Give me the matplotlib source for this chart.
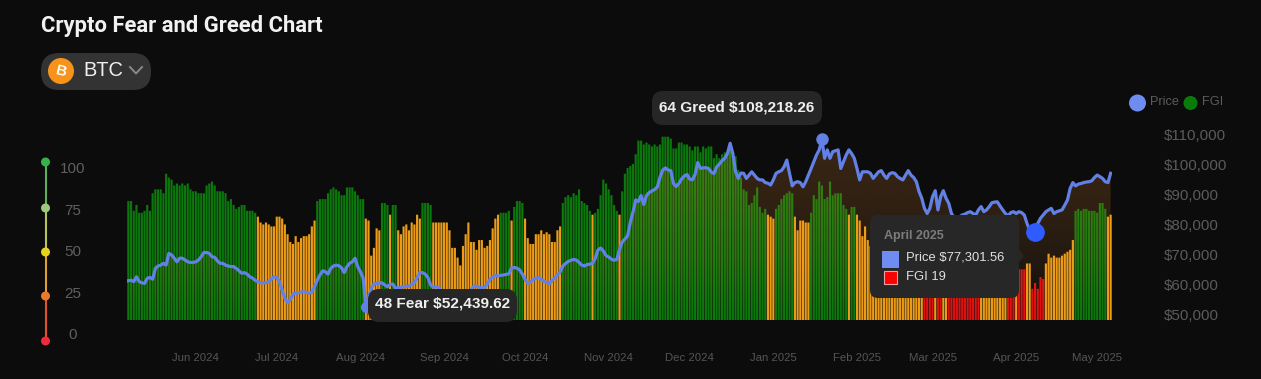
import numpy as np
import pandas as pd
import matplotlib
matplotlib.use("Agg")
import matplotlib.pyplot as plt
import matplotlib.dates as mdates
from matplotlib.patches import FancyBboxPatch, Circle, Rectangle, Polygon
from matplotlib.colors import LinearSegmentedColormap

plt.rcParams['font.family'] = ['Liberation Sans', 'DejaVu Sans']

# daily values
start_date = "2024-05-07"

fgi = [
    61, 61, 56, 59, 55, 55, 56, 59, 56, 65, 67, 67, 67, 65, 75, 73, 72, 69, 70, 69, 70, 69, 70, 67,
    66, 66, 65, 65, 65, 69, 70, 71, 69, 66, 66, 66, 65, 61, 62, 59, 57, 58, 59, 59, 56, 56, 56, 55,
    53, 50, 49, 50, 49, 48, 48, 53, 53, 52, 49, 44, 40, 39, 43, 40, 42, 43, 43, 44, 48, 51,
    61, 62, 62, 62, 65, 67, 68, 67, 66, 64, 64, 68, 68, 68, 66, 64, 62, 62,
    52, 51, 33, 37, 47, 46, 60, 60, 59, 54, 59, 59,
    46, 44, 48, 49, 46, 50, 49, 54, 52, 60, 60, 60, 59,
    50, 50, 50, 50, 50, 50, 46, 37, 37, 32, 28, 38, 44, 50, 40, 40, 36, 41, 41, 37, 38, 41, 47, 52, 54,
    55, 55, 55, 56, 51, 58, 61, 61, 60, 52,
    42, 39, 39, 44, 44, 46, 44, 45, 44, 40, 40, 46, 48,
    60, 63, 64, 63, 65, 64, 67, 61, 60, 59, 56, 54,
    55, 57, 64, 72, 70, 67, 64, 59, 56, 54,
    66, 75, 78, 79, 80, 85, 92, 92, 90, 91, 90, 89, 90, 89, 90, 94, 94, 94, 93, 88, 88, 91, 91, 90, 90, 89,
    87, 89, 89, 86, 89, 88, 89, 89, 83, 85, 83, 85, 86, 85, 91, 86, 84, 77, 73, 67, 66, 59, 60, 64, 68, 58, 55, 57,
    54, 53, 52, 57, 59, 62, 64, 65, 66, 65, 53, 46, 51, 51, 50, 50,
    55, 64, 62, 71, 69, 62, 63, 71, 64, 65, 65, 65, 59, 57, 54, 58, 58, 54, 51, 43, 48, 41, 38,
    44, 46, 48, 45, 43, 48, 47, 46, 44, 47, 50, 49, 46, 44, 43, 45, 47, 42, 35,
    25, 21, 17, 21, 33, 25, 24, 35, 34,
    23, 20, 15, 20, 24, 20, 25, 26, 25, 20, 22, 27,
    32, 34, 30, 33, 36, 31, 30, 33, 34, 30, 27, 25, 24, 29, 26, 26, 26, 29, 29,
    16, 19, 16, 22, 21, 29, 34, 32, 33, 32, 32, 33, 34, 35, 36, 41,
    56, 57, 56, 57, 57, 56, 56, 56, 55, 60, 60, 57, 53, 54,
]

price = [
    61100, 61300, 60800, 62400, 60800, 60400, 60200, 61900, 62200, 61600, 65200, 66000, 66300, 66900, 66300, 70200,
    69700, 68600, 67400, 68600, 68600, 68000, 67400, 67200, 67200, 67400, 68000, 69100, 70500, 70500, 70200, 69100,
    68900, 67700, 66900, 66900, 66300, 66000, 65800, 65800, 65200, 64400, 63600, 63800, 63300, 62400, 62000, 61200,
    60800, 60400, 60400, 60400, 60800, 61600, 62400, 62200, 60800, 58000, 55200, 53800, 54700, 56700, 56900, 57100,
    57300, 57400, 57200, 56900, 57300, 59100, 61300, 63000, 64400, 64100, 63300, 65200, 66000, 66300, 66100, 65400,
    63800, 65800, 66900, 67400, 68600, 65800, 64100, 61900, 52439.62, 55500, 58500, 60000, 60200, 60300, 60400, 59700,
    59100, 59900, 60000, 58600, 58800, 58900, 59100, 59300, 59300, 59900, 60400, 62200, 63800, 63800, 63300, 62200,
    59700, 58900, 59100, 58900, 57300, 57900, 57400, 58000, 56100, 53900, 54100, 54800, 57000, 57600, 57600, 58000,
    59300, 59300, 58900, 58700, 58900, 60000, 61500, 62400, 62800, 62700, 62900, 63000, 63200, 63400, 65300, 65500,
    65300, 64700, 63300, 61500, 60200, 60600, 61500, 61800, 62300, 61500, 61000, 60500, 60100, 61200, 62000, 63000,
    64000, 66000, 66800, 67500, 67900, 68200, 68000, 67200, 66300, 66000, 66500, 66600, 66900, 68500, 71300, 72000,
    71000, 69500, 69000, 68300, 67900, 68200, 71500, 74000, 75000, 76000, 80500, 84000, 88000, 87500, 89500, 86500,
    89500, 90500, 91000, 91500, 92300, 95500, 98000, 98700, 98000, 97800, 93500, 92500, 93500, 95000, 96000, 96500,
    95000, 94700, 96500, 100500, 98500, 98700, 98800, 98500, 97300, 96800, 99000, 100000, 101100, 101900, 103500, 106900,
    103500, 97500, 95200, 97000, 96900, 95200, 96300, 97400, 96300, 95200, 94700, 94700, 93800, 93600, 93000, 94700,
    96900, 97400, 97800, 99100, 101300, 96900, 92700, 93800, 94100, 93800, 92400, 94100, 96300, 98500, 100800, 103000,
    104700, 108218.26, 101900, 104700, 101900, 104100, 104400, 104700, 98500, 100800, 103000, 104700, 103500, 101900, 98500, 94700,
    97400, 97400, 97400, 96900, 95200, 96300, 97400, 97800, 96300, 95200, 96700, 97100, 96900, 95800, 95200, 94700,
    96300, 97800, 96300, 95500, 94100, 90800, 88600, 85200, 83500, 85200, 89100, 91100, 84700, 89100, 91100, 88600,
    86900, 83500, 82200, 81900, 82400, 83000, 83300, 83800, 84100, 83500, 83000, 84700, 85800, 84100, 84700, 85800,
    87100, 87300, 87400, 86000, 84700, 83500, 82700, 83800, 84100, 83500, 84100, 83800, 83000, 80200, 78000, 77400,
    77301.56, 80200, 81900, 83000, 84100, 84700, 85200, 83500, 84100, 84400, 84700, 86300, 88000, 91900, 93800, 92700,
    93300, 93500, 93800, 94000, 94100, 94400, 95500, 96300, 95800, 95200, 94100, 93800, 96900,
]

price_ticks = [50000, 60000, 70000, 80000, 90000, 100000, 110000]
scale_labels = ["100", "75", "50", "25", "0"]

assert len(fgi) == 365 and len(price) == 365, (len(fgi), len(price))

bg = "#0c0c0d"
grey = "#5b5b5b"
price_col = "#6281e6"
W, H = 1261, 379

dates = pd.date_range(start_date, periods=len(fgi), freq="D")
x_num = mdates.date2num(dates)
colors = ["#de1010" if v < 28 else "#ec9c16" if v < 55 else "#0a780a" for v in fgi]

fig = plt.figure(figsize=(W / 100, H / 100), dpi=100, facecolor=bg)

# plot area is 127..1112 px across and 120..320 px down
ax = fig.add_axes([127 / W, (H - 320) / H, 985 / W, 200 / H])
ax.set_facecolor("none")
# no pixel snapping, so the gaps between the bars stay even and soft
ax.bar(dates, fgi, width=0.8, color=colors, linewidth=0, zorder=1, snap=False)
ax.set_xlim(x_num[0] - 0.5, x_num[-1] + 0.5)
ax.set_ylim(0, 200 / 1.95)
ax.set_yticks([])
for s in ax.spines.values():
    s.set_visible(False)
ax.xaxis.set_major_locator(mdates.MonthLocator())
ax.xaxis.set_major_formatter(mdates.DateFormatter("%b %Y"))
ax.tick_params(axis="x", length=0, pad=23.5, labelsize=8.2, labelcolor="#555555")

ax2 = ax.twinx()
ax2.set_facecolor("none")
ax2.set_ylim(48000, 48000 + 200 / 0.003)
ax2.set_yticks(price_ticks)
ax2.set_yticklabels(["${:,}".format(p) for p in price_ticks])
ax2.tick_params(axis="y", length=0, pad=37, labelsize=10.9, labelcolor=grey)
for s in ax2.spines.values():
    s.set_visible(False)

# brown area under the price line, fading downwards
cmap = LinearSegmentedColormap.from_list(
    "area", [(1, 0.6, 0.2, 0.0), (1, 0.6, 0.2, 0.10), (1, 0.6, 0.2, 0.16), (1, 0.6, 0.2, 0.19)]
)
grad = np.linspace(0, 1, 200).reshape(-1, 1)
im = ax2.imshow(grad, extent=[x_num[0], x_num[-1], 48000, 112000], origin="lower",
                aspect="auto", cmap=cmap, zorder=2)
poly = ax2.fill_between(dates, 48000, price, color="none")
im.set_clip_path(poly.get_paths()[0], transform=ax2.transData)
ax2.set_xlim(x_num[0] - 0.5, x_num[-1] + 0.5)
ax2.set_ylim(48000, 48000 + 200 / 0.003)

ax2.plot(dates, price, color=price_col, linewidth=2.3, zorder=3, solid_joinstyle="round")

# highlighted points
hi = int(np.argmax(price))
lo = int(np.argmin(price))
cur = price.index(77301.56)
ax2.plot(dates[hi], price[hi], "o", ms=9, color=price_col, mew=0, zorder=4)
ax2.plot(dates[lo], price[lo], "o", ms=8, color=price_col, mew=0, zorder=4)
ax2.plot(dates[cur], price[cur], "o", ms=13.5, color="#2f5cff", mew=0, zorder=4)

# page furniture drawn in pixel coordinates
ov = fig.add_axes([0, 0, 1, 1], zorder=5)
ov.set_facecolor("none")
ov.set_xlim(0, W)
ov.set_ylim(H, 0)
ov.axis("off")


def pill(x0, y0, x1, y1, r, col, alpha=1.0):
    p = FancyBboxPatch((x0 + r, y0 + r), x1 - x0 - 2 * r, y1 - y0 - 2 * r,
                       boxstyle="round,pad={},rounding_size={}".format(r, r),
                       fc=col, ec="none", alpha=alpha)
    ov.add_patch(p)


ov.text(41, 26, "Crypto Fear and Greed Chart", color="#f2f2f2", fontsize=15.8,
        fontweight="bold", family=["Roboto", "DejaVu Sans"], va="center", ha="left")

# coin selector
pill(41, 53, 151, 90, 18, "#333333")
ov.add_patch(Circle((61, 71), 13, fc="#f7931a", ec="none"))
ov.text(61, 71, "B", color="white", fontsize=11, fontweight="bold", rotation=-14, ha="center", va="center")
ov.text(83, 71, "BTC", color="#f0f0f0", fontsize=14.4, va="center", ha="left")
ov.plot([130, 136, 142], [67, 73.5, 67], color="#8a8a8a", lw=1.4)

# legend
ov.add_patch(Circle((1137.5, 103), 8.5, fc="#6f8cf0", ec="none"))
ov.text(1150, 102, "Price", color=grey, fontsize=9.2, va="center", ha="left")
ov.add_patch(Circle((1190.5, 103), 7, fc="#0a7a0a", ec="none"))
ov.text(1202, 102, "FGI", color=grey, fontsize=9.2, va="center", ha="left")

# fear and greed scale
dot_y = [162, 208, 252, 296, 341]
dot_col = ["#35b24a", "#9bc87c", "#e6d21b", "#e87a2a", "#ee2b3a"]
line_col = ["#5fae58", "#b8c45a", "#e0a030", "#e0522e"]
lab_y = [169, 211, 252, 294, 335]
for i in range(4):
    ov.plot([45.5, 45.5], [dot_y[i], dot_y[i + 1]], color=line_col[i], lw=1.5, zorder=1)
for y, c, ly, t in zip(dot_y, dot_col, lab_y, scale_labels):
    ov.add_patch(Circle((45.5, y), 4.5, fc=c, ec="none", zorder=2))
    ov.text(73, ly, t, color="#5f5f5f", fontsize=11, va="center", ha="center")

# value tags
pill(652, 91, 822, 125, 11, "#262626")
ov.text(737, 107, "64 Greed $108,218.26", color="#eeeeee", fontsize=11.1, fontweight="bold",
        va="center", ha="center")
pill(368, 289, 517, 322, 11, "#262626")
ov.text(443, 304, "48 Fear $52,439.62", color="#eeeeee", fontsize=11.1, fontweight="bold",
        va="center", ha="center")

# hover tooltip
pill(870, 215, 1019, 298, 8, "#272727")
ov.add_patch(Polygon([[1019, 250], [1024, 256], [1019, 262]], fc="#272727", ec="none"))
ov.text(884, 236, "April 2025", color="#7c7c7c", fontsize=9, fontweight="bold", va="center", ha="left")
ov.add_patch(Rectangle((882, 251), 17, 17, fc="#6f8cf0", ec="none"))
ov.text(906, 258, "Price $77,301.56", color="#e0e0e0", fontsize=9.4, va="center", ha="left")
ov.add_patch(Rectangle((884, 271), 12.5, 12.5, fc="#ff0000", ec="#e8a0a0", lw=0.8))
ov.text(906, 277, "FGI 19", color="#e0e0e0", fontsize=9.4, va="center", ha="left")

fig.savefig("out.png", dpi=100, facecolor=bg)
